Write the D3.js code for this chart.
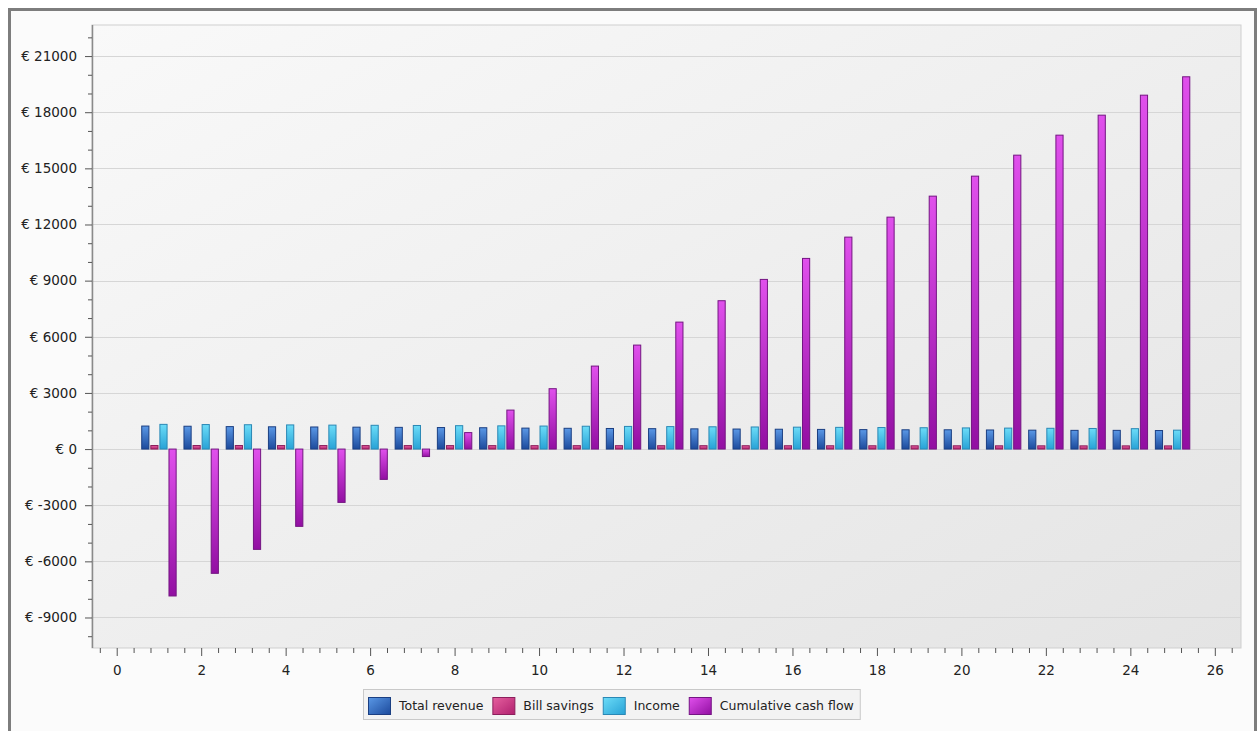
<!DOCTYPE html>
<html><head><meta charset="utf-8">
<script src="https://cdn.jsdelivr.net/npm/d3@7"></script>
<style>
html,body{margin:0;padding:0;background:#fff;}
svg{display:block;}
text{font-family:"DejaVu Sans",Verdana,sans-serif;fill:#222;}
</style></head><body>
<svg id="c" width="1258" height="731"></svg>
<script>
const years = [1,2,3,4,5,6,7,8,9,10,11,12,13,14,15,16,17,18,19,20,21,22,23,24,25];
const seriesNames = ["Total revenue","Bill savings","Income","Cumulative cash flow"];
const totalRevenue = [1230,1220,1200,1190,1180,1170,1160,1150,1140,1120,1110,1100,1090,1080,1070,1060,1050,1040,1030,1030,1020,1010,1000,1000,990];
const billSavings = [190,190,190,188,188,186,186,185,184,183,182,181,180,180,179,178,177,176,175,175,174,173,172,171,170];
const income = [1320,1310,1300,1290,1280,1270,1260,1250,1240,1230,1220,1210,1200,1190,1180,1170,1160,1150,1140,1130,1120,1110,1100,1090,1010];
const cumulative = [-7850,-6640,-5360,-4130,-2850,-1620,-400,880,2083,3226,4434,5556,6784,7927,9065,10187,11325,12393,13515,14583,15705,16774,17842,18910,19893];
const yTicks = [-9000,-6000,-3000,0,3000,6000,9000,12000,15000,18000,21000];
const yMinorTicks = d3.range(-10000, 22001, 1000);
const xTicks = [0,2,4,6,8,10,12,14,16,18,20,22,24,26];
const xMinorTicks = d3.range(-2, 67).map(i => +(i*0.4).toFixed(1));
const yDomain = [-10630, 22660];
const xDomain = [-0.585, 26.62];

const seriesData = [totalRevenue, billSavings, income, cumulative];
const colors = [
  {top:"#5a98e6", bot:"#1c4a9c", stroke:"#1b3f82"},
  {top:"#e6609f", bot:"#b0206e", stroke:"#8c1f5c"},
  {top:"#6cdcf8", bot:"#27a2d6", stroke:"#2a88b5"},
  {top:"#e050ec", bot:"#920fa2", stroke:"#741582"}
];

const svg = d3.select("#c");
const W = 1258, H = 731;
const plot = {l:92, t:25, r:1241, b:648};

const defs = svg.append("defs");
const bg = defs.append("linearGradient").attr("id","bg").attr("x1","0").attr("y1","0").attr("x2","1").attr("y2","1");
bg.append("stop").attr("offset","0").attr("stop-color","#f9f9f9");
bg.append("stop").attr("offset","1").attr("stop-color","#e4e4e4");
colors.forEach((c,i)=>{
  const g = defs.append("linearGradient").attr("id","g"+i).attr("x1","0").attr("y1","0").attr("x2","0").attr("y2","1");
  g.append("stop").attr("offset","0").attr("stop-color",c.top);
  g.append("stop").attr("offset","1").attr("stop-color",c.bot);
  const h = defs.append("linearGradient").attr("id","h"+i).attr("x1","0").attr("y1","0").attr("x2","1").attr("y2","1");
  h.append("stop").attr("offset","0").attr("stop-color",c.top);
  h.append("stop").attr("offset","1").attr("stop-color",c.bot);
});

// frame
svg.append("rect").attr("x",9.5).attr("y",9.5).attr("width",1246).attr("height",740)
  .attr("fill","#fbfbfb").attr("stroke","#7d7d7d").attr("stroke-width",3);

// plot background
svg.append("rect").attr("x",plot.l).attr("y",plot.t).attr("width",plot.r-plot.l).attr("height",plot.b-plot.t)
  .attr("fill","url(#bg)").attr("stroke","#cfcfcf").attr("stroke-width",1);

const x = d3.scaleLinear().domain(xDomain).range([plot.l, plot.r]);
const y = d3.scaleLinear().domain(yDomain).range([plot.b, plot.t]);

// gridlines
svg.append("g").selectAll("line").data(yTicks).join("line")
  .attr("x1",plot.l).attr("x2",plot.r)
  .attr("y1",d=>Math.round(y(d))+0.5).attr("y2",d=>Math.round(y(d))+0.5)
  .attr("stroke","#d6d6d6").attr("stroke-width",1);

// bars
const slot = x(0.215) - x(0);
const bw = x(0.17) - x(0);
const bars = svg.append("g");
seriesData.forEach((vals, s)=>{
  bars.append("g").selectAll("rect").data(years.map((yr,i)=>({yr, v:vals[i]}))).join("rect")
    .attr("x", d => x(d.yr) + (s-1.5)*slot - bw/2)
    .attr("y", d => Math.min(y(d.v), y(0)))
    .attr("width", bw)
    .attr("height", d => Math.max(1, Math.abs(y(d.v)-y(0))))
    .attr("fill", "url(#g"+s+")")
    .attr("stroke", colors[s].stroke).attr("stroke-width",1);
});

// y axis
const yAxis = svg.append("g").attr("transform",`translate(${plot.l},0)`)
  .call(d3.axisLeft(y).tickValues(yTicks).tickSize(7).tickPadding(8).tickFormat(d=>"€ "+d));
const yMinor = svg.append("g").attr("transform",`translate(${plot.l},0)`)
  .call(d3.axisLeft(y).tickValues(yMinorTicks.filter(d=>d>=yDomain[0]&&d<=yDomain[1]&&!yTicks.includes(d))).tickSize(4).tickFormat(""));
// x axis
const xAxis = svg.append("g").attr("transform",`translate(0,${plot.b})`)
  .call(d3.axisBottom(x).tickValues(xTicks).tickSize(8).tickPadding(9));
const xMinor = svg.append("g").attr("transform",`translate(0,${plot.b})`)
  .call(d3.axisBottom(x).tickValues(xMinorTicks.filter(d=>d>=xDomain[0]&&d<=xDomain[1]&&!xTicks.includes(d))).tickSize(5).tickFormat(""));
[yAxis,yMinor,xAxis,xMinor].forEach(g=>{
  g.select(".domain").attr("stroke","#8a8a8a").attr("stroke-width",1.5);
  g.selectAll(".tick line").attr("stroke","#555");
  g.selectAll("text").style("font-family","'DejaVu Sans',Verdana,sans-serif").style("font-size","13.5px").attr("fill","#222");
});
yMinor.select(".domain").remove(); xMinor.select(".domain").remove();
yAxis.select(".domain").attr("d",`M0.5,${plot.t}V${plot.b}`);
xAxis.select(".domain").attr("d",`M${plot.l},${plot.b+0.5}H${plot.r}`);

// legend
const lg = svg.append("g");
const lx0 = 363, ly0 = 689, lh = 30;
const box = lg.append("rect").attr("y",ly0+0.5).attr("height",lh).attr("x",lx0+0.5)
  .attr("fill","#f3f3f3").attr("stroke","#c9c9c9");
let cx = lx0 + 5;
seriesNames.forEach((n,i)=>{
  lg.append("rect").attr("x",cx+0.5).attr("y",ly0+8.5).attr("width",22).attr("height",17)
    .attr("fill","url(#h"+i+")").attr("stroke",colors[i].stroke);
  const t = lg.append("text").attr("x",cx+31).attr("y",ly0+21).style("font-size","12.5px").text(n);
  cx = cx + 31 + t.node().getComputedTextLength() + 9;
});
box.attr("width", cx - lx0 - 3);
</script>
</body></html>
